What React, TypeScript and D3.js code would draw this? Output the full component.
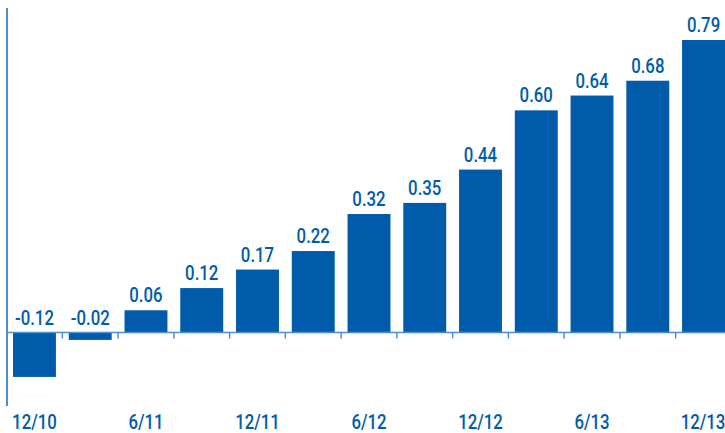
import * as d3 from "d3";

const categories = [
  "12/10", "3/11", "6/11", "9/11", "12/11", "3/12", "6/12",
  "9/12", "12/12", "3/13", "6/13", "9/13", "12/13",
];
const values = [-0.12, -0.02, 0.06, 0.12, 0.17, 0.22, 0.32, 0.35, 0.44, 0.6, 0.64, 0.68, 0.79];
const tickLabels = ["12/10", "6/11", "12/11", "6/12", "12/12", "6/13", "12/13"];

const width = 725;
const height = 433;
const barColor = "#005cab";
const axisColor = "#4a8fd2";
const font = "Roboto, 'DejaVu Sans Condensed', sans-serif";

// condensed look: squeeze Roboto horizontally
const Label = ({ x, y, text }: { x: number; y: number; text: string }) => (
  <text
    transform={`translate(${x},${y}) scale(0.84,1)`}
    textAnchor="middle"
    fontSize={20}
    fontWeight={500}
    fill={barColor}
  >
    {text}
  </text>
);

export default function App() {
  const x = d3
    .scaleBand<string>()
    .domain(categories)
    .range([13, 725])
    .paddingInner(0.23)
    .paddingOuter(0);

  // 0 sits at y=332, 0.79 reaches y=40
  const y = d3.scaleLinear().domain([0, 0.79]).range([332.5, 40]);

  const bw = x.bandwidth();
  const step = x.step();

  return (
    <svg
      width={width}
      height={height}
      style={{ position: "absolute", left: 0, top: 0 }}
      fontFamily={font}
    >
      {/* y axis line */}
      <line x1={7} x2={7} y1={8} y2={406} stroke={axisColor} strokeWidth={2} />

      {values.map((v, i) => {
        const cx = x(categories[i])! + bw / 2;
        const top = Math.min(y(v), y(0));
        const h = Math.abs(y(v) - y(0));
        return (
          <g key={categories[i]}>
            <rect x={x(categories[i])} y={top} width={bw} height={h} fill={barColor} />
            <Label x={cx} y={(v >= 0 ? y(v) : y(0)) - 8} text={v.toFixed(2)} />
          </g>
        );
      })}

      {/* zero line */}
      <line x1={7} x2={width} y1={y(0)} y2={y(0)} stroke={axisColor} strokeWidth={1.5} />

      {/* ticks between bars */}
      {categories.slice(1).map((c) => {
        const tx = x(c)! - (step - bw) / 2;
        return (
          <line key={"t" + c} x1={tx} x2={tx} y1={y(0)} y2={y(0) + 6} stroke={axisColor} strokeWidth={1.5} />
        );
      })}

      {categories.map((c) =>
        tickLabels.includes(c) ? (
          <Label key={"l" + c} x={Math.min(x(c)! + bw / 2, 703)} y={429} text={c} />
        ) : null
      )}
    </svg>
  );
}
